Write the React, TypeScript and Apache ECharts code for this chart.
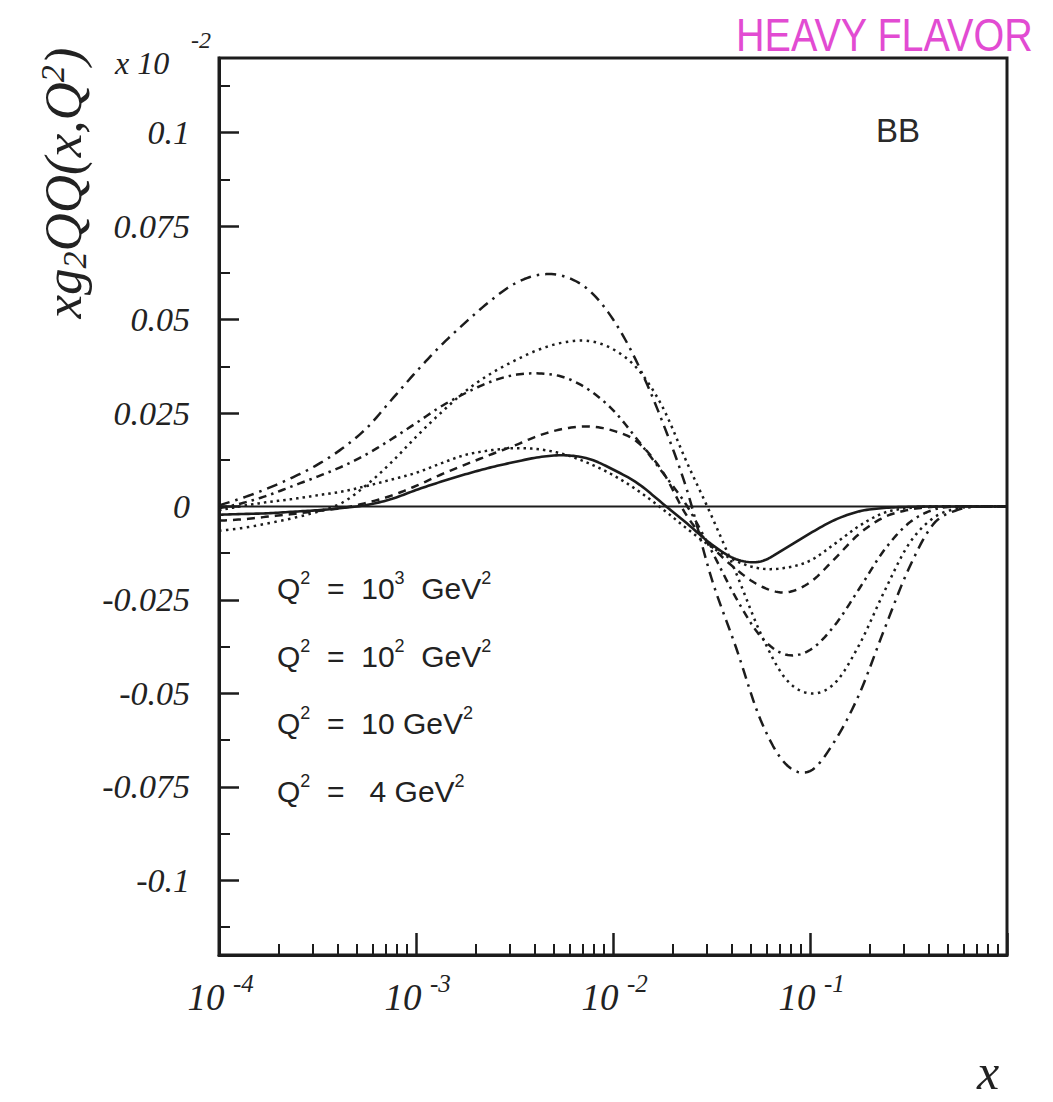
import React, { useEffect, useRef } from "react";
import * as echarts from "echarts";

// x grid (log spaced at 1/8 decade steps)
const X_VALUES = [
  1e-4, 1.334e-4, 1.778e-4, 2.371e-4, 3.162e-4, 4.217e-4, 5.623e-4, 7.499e-4,
  1e-3, 1.334e-3, 1.778e-3, 2.371e-3, 3.162e-3, 4.217e-3, 5.623e-3, 7.499e-3,
  1e-2, 1.334e-2, 1.778e-2, 2.371e-2, 3.162e-2, 4.217e-2, 5.623e-2, 7.499e-2,
  0.1, 0.1334, 0.1778, 0.2371, 0.3162, 0.4217, 0.5623, 0.7499, 1,
];

// curves, in units of 10^-2
const CURVE_SOLID = [
  -0.0022, -0.002, -0.0018, -0.0014, -0.001, -0.0004, 0.0004, 0.002,
  0.0044, 0.0066, 0.0086, 0.0104, 0.0119, 0.0132, 0.0137, 0.0128,
  0.0099, 0.0062, 0.0009, -0.0045, -0.0101, -0.0141, -0.0147, -0.0112,
  -0.0072, -0.0036, -0.0013, -0.0004, -0.0001, 0, 0, 0, 0,
];
const CURVE_DOTTED_SMALL = [
  -0.001, 0.0002, 0.0012, 0.002, 0.003, 0.004, 0.0055, 0.0072,
  0.009, 0.0115, 0.0138, 0.015, 0.0156, 0.0153, 0.014, 0.0116,
  0.0084, 0.0043, -0.0006, -0.0059, -0.0108, -0.0146, -0.0166, -0.0164,
  -0.0145, -0.01, -0.0052, -0.0017, -0.0004, 0, 0, 0, 0,
];
const CURVE_DASHED = [
  -0.0038, -0.0034, -0.0027, -0.002, -0.0012, -0.0004, 0.001, 0.0029,
  0.0055, 0.0085, 0.0112, 0.0138, 0.0163, 0.019, 0.0208, 0.0214,
  0.0203, 0.0172, 0.0095, -0.0025, -0.0106, -0.0168, -0.0213, -0.023,
  -0.0203, -0.014, -0.0073, -0.0029, -0.0009, -0.0001, 0, 0, 0,
];
const CURVE_DASHDOT_SMALL = [
  -0.0005, 0.001, 0.003, 0.0055, 0.008, 0.0107, 0.014, 0.018,
  0.0223, 0.0267, 0.0303, 0.0333, 0.0352, 0.0356, 0.0346, 0.0313,
  0.0258, 0.0178, 0.0092, 0.0002, -0.0118, -0.0245, -0.0348, -0.0396,
  -0.0384, -0.0318, -0.022, -0.0118, -0.0045, -0.0009, 0, 0, 0,
];
const CURVE_DOTTED_LARGE = [
  -0.0065, -0.0057, -0.0045, -0.0031, -0.0014, 0.001, 0.0058, 0.0118,
  0.0186, 0.025, 0.0308, 0.0354, 0.039, 0.042, 0.0439, 0.0443,
  0.0421, 0.0368, 0.0268, 0.0118, -0.0025, -0.0178, -0.034, -0.046,
  -0.05, -0.0473, -0.037, -0.023, -0.0102, -0.0031, -0.0005, 0, 0,
];
const CURVE_DASHDOT_LARGE = [
  0.0003, 0.0024, 0.0049, 0.0078, 0.0112, 0.0155, 0.021, 0.0285,
  0.036, 0.043, 0.0492, 0.0549, 0.0596, 0.062, 0.0616, 0.058,
  0.0501, 0.0382, 0.0228, 0.0045, -0.0192, -0.0378, -0.0572, -0.0688,
  -0.0708, -0.0628, -0.0502, -0.0332, -0.0168, -0.0048, -0.0009, 0, 0,
];

const ZERO_LINE_X = [1e-4, 1];
const ZERO_LINE_Y = [0, 0];

const Y_MAJOR = [-0.1, -0.075, -0.05, -0.025, 0, 0.025, 0.05, 0.075, 0.1];
const Y_MINOR = [-0.1125, -0.0875, -0.0625, -0.0375, -0.0125, 0.0125, 0.0375, 0.0625, 0.0875, 0.1125];
const X_MINOR = [
  2e-4, 3e-4, 4e-4, 5e-4, 6e-4, 7e-4, 8e-4, 9e-4,
  2e-3, 3e-3, 4e-3, 5e-3, 6e-3, 7e-3, 8e-3, 9e-3,
  2e-2, 3e-2, 4e-2, 5e-2, 6e-2, 7e-2, 8e-2, 9e-2,
  0.2, 0.3, 0.4, 0.5, 0.6, 0.7, 0.8, 0.9,
];

const LEGEND_BASE = ["Q", "Q", "Q", "Q"];
const LEGEND_MID = ["  =  10", "  =  10", "  =  10 GeV", "  =   4 GeV"];
const LEGEND_MID_SUP = ["3", "2", "", ""];
const LEGEND_TAIL = ["  GeV", "  GeV", "", ""];

const SERIF = "'Liberation Serif', 'Times New Roman', serif";
const SANS = "'Liberation Sans', Arial, sans-serif";
const INK = "#1c1c1c";

// Uniform Catmull-Rom through pixel points (rendering only)
function catmullRom(pts: number[][], steps: number): number[][] {
  const out: number[][] = [];
  const n = pts.length;
  for (let i = 0; i < n - 1; i++) {
    const p0 = pts[Math.max(i - 1, 0)];
    const p1 = pts[i];
    const p2 = pts[i + 1];
    const p3 = pts[Math.min(i + 2, n - 1)];
    for (let s = 0; s < steps; s++) {
      const t = s / steps;
      const t2 = t * t;
      const t3 = t2 * t;
      const f = (a: number, b: number, c: number, d: number) =>
        0.5 * (2 * b + (-a + c) * t + (2 * a - 5 * b + 4 * c - d) * t2 + (-a + 3 * b - 3 * c + d) * t3);
      out.push([f(p0[0], p1[0], p2[0], p3[0]), f(p0[1], p1[1], p2[1], p3[1])]);
    }
  }
  out.push(pts[n - 1]);
  return out;
}

function buildOption() {
  const curve = (name: string, arr: number[], dash: number[] | null, width = 2.5) => ({
    name,
    type: "custom",
    coordinateSystem: "cartesian2d",
    xAxisIndex: 0,
    yAxisIndex: 0,
    silent: true,
    clip: true,
    z: 3,
    data: [[X_VALUES[0], arr[0]]],
    renderItem: (_params: any, api: any) => {
      const pts = X_VALUES.map((x, i) => api.coord([x, arr[i]]));
      const dense = catmullRom(pts, 10);
      return {
        type: "polyline",
        shape: { points: dense },
        style: {
          fill: "none",
          stroke: INK,
          lineWidth: width,
          lineDash: dash || undefined,
          lineJoin: "round",
        },
      };
    },
  });

  const legendTexts = LEGEND_BASE.map((q, i) => {
    let s = `{q|${q}}{p|2}{q|${LEGEND_MID[i]}}`;
    if (LEGEND_MID_SUP[i]) s += `{p|${LEGEND_MID_SUP[i]}}{q|${LEGEND_TAIL[i]}}{p|2}`;
    else s += `{p|2}`;
    return s;
  });

  const legendRich = {
    q: { fontFamily: SANS, fontSize: 30, fill: "#222", lineHeight: 34, verticalAlign: "bottom" },
    p: { fontFamily: SANS, fontSize: 18, fill: "#222", lineHeight: 20, verticalAlign: "top" },
  };

  const legendY = [586, 654, 721, 789];

  const exponent = (v: number) => Math.round(Math.log10(v));

  return {
    animation: false,
    backgroundColor: "#ffffff",
    grid: {
      left: 219,
      right: 46,
      top: 58,
      bottom: 147,
      show: true,
      borderColor: INK,
      borderWidth: 3,
      backgroundColor: "transparent",
    },
    xAxis: [
      {
        type: "log",
        logBase: 10,
        min: 1e-4,
        max: 1,
        position: "bottom",
        axisLine: { show: true, onZero: false, lineStyle: { color: INK, width: 3 } },
        axisTick: { show: true, inside: true, length: 22, lineStyle: { color: INK, width: 2.5 } },
        splitLine: { show: false },
        minorTick: { show: false },
        axisLabel: {
          show: true,
          margin: 24,
          align: "center",
          padding: [0, 26, 0, 0],
          fontFamily: SERIF,
          fontStyle: "italic",
          fontSize: 37,
          color: "#222",
          formatter: (v: number) => (exponent(v) >= 0 ? "" : "10"),
        },
      },
      {
        type: "log",
        logBase: 10,
        min: 1e-4,
        max: 1,
        position: "bottom",
        axisLine: { show: false, onZero: false },
        axisTick: { show: true, inside: true, length: 11, customValues: X_MINOR, lineStyle: { color: INK, width: 2 } },
        axisLabel: { show: false },
        splitLine: { show: false },
      },
      {
        type: "log",
        logBase: 10,
        min: 1e-4,
        max: 1,
        position: "bottom",
        axisLine: { show: false, onZero: false },
        axisTick: { show: false },
        splitLine: { show: false },
        axisLabel: {
          show: true,
          margin: 16,
          align: "left",
          padding: [0, 0, 0, 14],
          fontFamily: SERIF,
          fontStyle: "italic",
          fontSize: 25,
          color: "#222",
          formatter: (v: number) => (exponent(v) >= 0 ? "" : String(exponent(v))),
        },
      },
    ],
    yAxis: [
      {
        type: "value",
        min: -0.12,
        max: 0.12,
        position: "left",
        axisLine: { show: true, onZero: false, lineStyle: { color: INK, width: 3 } },
        axisTick: { show: true, inside: true, length: 20, customValues: Y_MAJOR, lineStyle: { color: INK, width: 2.5 } },
        splitLine: { show: false },
        axisLabel: {
          show: true,
          customValues: Y_MAJOR,
          margin: 29,
          fontFamily: SERIF,
          fontStyle: "italic",
          fontSize: 34,
          color: "#222",
          formatter: (v: number) => String(+v.toFixed(4)),
        },
      },
      {
        type: "value",
        min: -0.12,
        max: 0.12,
        position: "left",
        axisLine: { show: false, onZero: false },
        axisTick: { show: true, inside: true, length: 11, customValues: Y_MINOR, lineStyle: { color: INK, width: 2 } },
        axisLabel: { show: false },
        splitLine: { show: false },
      },
    ],
    series: [
      {
        name: "zero",
        type: "line",
        xAxisIndex: 0,
        yAxisIndex: 0,
        data: ZERO_LINE_X.map((x, i) => [x, ZERO_LINE_Y[i]]),
        showSymbol: false,
        silent: true,
        lineStyle: { color: INK, width: 1.8 },
        z: 2,
      },
      curve("solid", CURVE_SOLID, null, 2.6),
      curve("dotted-small", CURVE_DOTTED_SMALL, [2.5, 4]),
      curve("dashed", CURVE_DASHED, [8, 6]),
      curve("dashdot-small", CURVE_DASHDOT_SMALL, [8, 5, 2.5, 5]),
      curve("dotted-large", CURVE_DOTTED_LARGE, [2.5, 4.5]),
      curve("dashdot-large", CURVE_DASHDOT_LARGE, [11, 6, 2.5, 6]),
    ],
    graphic: [
      {
        type: "text",
        left: 115,
        top: 47,
        style: { text: "x 10", font: `italic 32px ${SERIF}`, fill: "#222" },
      },
      {
        type: "text",
        left: 191,
        top: 28,
        style: { text: "-2", font: `italic 24px ${SERIF}`, fill: "#222" },
      },
      {
        type: "text",
        x: 63,
        y: 183,
        rotation: Math.PI / 2,
        style: {
          text: "{m|xg}{sub|2}{m|QQ(x,Q}{sup|2}{m|)}",
          align: "center",
          verticalAlign: "middle",
          rich: {
            m: { fontFamily: SERIF, fontStyle: "italic", fontSize: 53, fill: "#222", lineHeight: 56, verticalAlign: "middle" },
            sub: { fontFamily: SERIF, fontStyle: "italic", fontSize: 34, fill: "#222", lineHeight: 34, verticalAlign: "bottom" },
            sup: { fontFamily: SERIF, fontStyle: "italic", fontSize: 34, fill: "#222", lineHeight: 34, verticalAlign: "top" },
          },
        },
      },
      {
        type: "text",
        left: 876,
        top: 114,
        style: { text: "BB", font: `33px ${SANS}`, fill: "#2a2a2a" },
      },
      {
        type: "text",
        x: 736,
        y: 12,
        scaleX: 0.86,
        style: { text: "HEAVY FLAVOR", font: `46px ${SANS}`, fill: "#e24bd2" },
      },
      ...legendTexts.map((t, i) => ({
        type: "text",
        x: 277,
        y: legendY[i],
        style: { text: t, verticalAlign: "middle", align: "left", rich: legendRich },
      })),
      {
        type: "text",
        x: 988,
        y: 1072,
        style: { text: "x", font: `italic 50px ${SERIF}`, fill: "#222", align: "center", verticalAlign: "middle" },
      },
    ],
  };
}

export default function App() {
  const ref = useRef<HTMLDivElement>(null);
  useEffect(() => {
    if (!ref.current) return;
    const chart = echarts.init(ref.current, null, { renderer: "svg" });
    chart.setOption(buildOption() as any);
    return () => chart.dispose();
  }, []);
  return (
    <div
      ref={ref}
      style={{ position: "absolute", left: 0, top: 0, width: 1053, height: 1102, background: "#fff" }}
    />
  );
}
